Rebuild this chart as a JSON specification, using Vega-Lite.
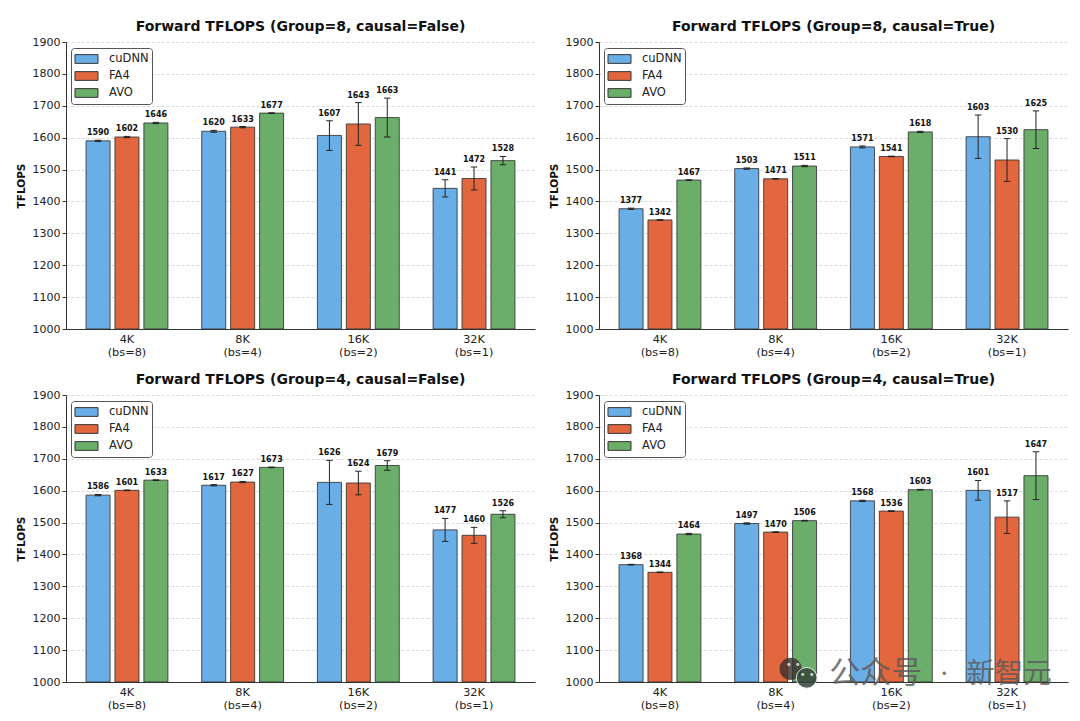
{
  "$schema": "https://vega.github.io/schema/vega-lite/v6.json",
  "background": "white",
  "padding": {"left": 16, "top": 20, "right": 10, "bottom": 5},
  "config": {
    "font": "DejaVu Sans",
    "numberFormat": "d",
    "view": {"stroke": null},
    "title": {"font": "DejaVu Sans", "fontSize": 14, "fontWeight": "bold", "color": "#111", "offset": 2},
    "axis": {"labelFont": "DejaVu Sans", "titleFont": "DejaVu Sans"},
    "axisY": {"tickCount": 10, "labelFontSize": 11, "labelColor": "#222", "tickColor": "#333", "tickSize": 4, "domainColor": "#333", "grid": true, "gridColor": "#ccc", "gridDash": [3, 2], "gridOpacity": 0.75, "titleFontSize": 10.5, "titleFontWeight": "bold", "titleColor": "#111", "titlePadding": 6}
  },
  "data": {
    "values": [
      {"panel": "G8F", "size": "4K (bs=8)", "series": "cuDNN", "value": 1590, "low": 1588, "high": 1592},
      {"panel": "G8F", "size": "4K (bs=8)", "series": "FA4", "value": 1602, "low": 1600, "high": 1604},
      {"panel": "G8F", "size": "4K (bs=8)", "series": "AVO", "value": 1646, "low": 1644, "high": 1648},
      {"panel": "G8F", "size": "8K (bs=4)", "series": "cuDNN", "value": 1620, "low": 1617, "high": 1623},
      {"panel": "G8F", "size": "8K (bs=4)", "series": "FA4", "value": 1633, "low": 1631, "high": 1635},
      {"panel": "G8F", "size": "8K (bs=4)", "series": "AVO", "value": 1677, "low": 1676, "high": 1678},
      {"panel": "G8F", "size": "16K (bs=2)", "series": "cuDNN", "value": 1607, "low": 1560, "high": 1653},
      {"panel": "G8F", "size": "16K (bs=2)", "series": "FA4", "value": 1643, "low": 1576, "high": 1710},
      {"panel": "G8F", "size": "16K (bs=2)", "series": "AVO", "value": 1663, "low": 1602, "high": 1724},
      {"panel": "G8F", "size": "32K (bs=1)", "series": "cuDNN", "value": 1441, "low": 1414, "high": 1468},
      {"panel": "G8F", "size": "32K (bs=1)", "series": "FA4", "value": 1472, "low": 1436, "high": 1508},
      {"panel": "G8F", "size": "32K (bs=1)", "series": "AVO", "value": 1528, "low": 1515, "high": 1541},
      {"panel": "G8T", "size": "4K (bs=8)", "series": "cuDNN", "value": 1377, "low": 1375, "high": 1379},
      {"panel": "G8T", "size": "4K (bs=8)", "series": "FA4", "value": 1342, "low": 1341, "high": 1343},
      {"panel": "G8T", "size": "4K (bs=8)", "series": "AVO", "value": 1467, "low": 1466, "high": 1468},
      {"panel": "G8T", "size": "8K (bs=4)", "series": "cuDNN", "value": 1503, "low": 1501, "high": 1505},
      {"panel": "G8T", "size": "8K (bs=4)", "series": "FA4", "value": 1471, "low": 1470, "high": 1472},
      {"panel": "G8T", "size": "8K (bs=4)", "series": "AVO", "value": 1511, "low": 1509, "high": 1513},
      {"panel": "G8T", "size": "16K (bs=2)", "series": "cuDNN", "value": 1571, "low": 1568, "high": 1574},
      {"panel": "G8T", "size": "16K (bs=2)", "series": "FA4", "value": 1541, "low": 1540, "high": 1542},
      {"panel": "G8T", "size": "16K (bs=2)", "series": "AVO", "value": 1618, "low": 1616, "high": 1620},
      {"panel": "G8T", "size": "32K (bs=1)", "series": "cuDNN", "value": 1603, "low": 1535, "high": 1671},
      {"panel": "G8T", "size": "32K (bs=1)", "series": "FA4", "value": 1530, "low": 1463, "high": 1597},
      {"panel": "G8T", "size": "32K (bs=1)", "series": "AVO", "value": 1625, "low": 1566, "high": 1684},
      {"panel": "G4F", "size": "4K (bs=8)", "series": "cuDNN", "value": 1586, "low": 1584, "high": 1588},
      {"panel": "G4F", "size": "4K (bs=8)", "series": "FA4", "value": 1601, "low": 1600, "high": 1602},
      {"panel": "G4F", "size": "4K (bs=8)", "series": "AVO", "value": 1633, "low": 1632, "high": 1634},
      {"panel": "G4F", "size": "8K (bs=4)", "series": "cuDNN", "value": 1617, "low": 1615, "high": 1619},
      {"panel": "G4F", "size": "8K (bs=4)", "series": "FA4", "value": 1627, "low": 1625, "high": 1629},
      {"panel": "G4F", "size": "8K (bs=4)", "series": "AVO", "value": 1673, "low": 1672, "high": 1674},
      {"panel": "G4F", "size": "16K (bs=2)", "series": "cuDNN", "value": 1626, "low": 1557, "high": 1695},
      {"panel": "G4F", "size": "16K (bs=2)", "series": "FA4", "value": 1624, "low": 1587, "high": 1661},
      {"panel": "G4F", "size": "16K (bs=2)", "series": "AVO", "value": 1679, "low": 1664, "high": 1694},
      {"panel": "G4F", "size": "32K (bs=1)", "series": "cuDNN", "value": 1477, "low": 1441, "high": 1513},
      {"panel": "G4F", "size": "32K (bs=1)", "series": "FA4", "value": 1460, "low": 1435, "high": 1485},
      {"panel": "G4F", "size": "32K (bs=1)", "series": "AVO", "value": 1526, "low": 1515, "high": 1537},
      {"panel": "G4T", "size": "4K (bs=8)", "series": "cuDNN", "value": 1368, "low": 1367, "high": 1369},
      {"panel": "G4T", "size": "4K (bs=8)", "series": "FA4", "value": 1344, "low": 1343, "high": 1345},
      {"panel": "G4T", "size": "4K (bs=8)", "series": "AVO", "value": 1464, "low": 1462, "high": 1466},
      {"panel": "G4T", "size": "8K (bs=4)", "series": "cuDNN", "value": 1497, "low": 1495, "high": 1499},
      {"panel": "G4T", "size": "8K (bs=4)", "series": "FA4", "value": 1470, "low": 1469, "high": 1471},
      {"panel": "G4T", "size": "8K (bs=4)", "series": "AVO", "value": 1506, "low": 1505, "high": 1507},
      {"panel": "G4T", "size": "16K (bs=2)", "series": "cuDNN", "value": 1568, "low": 1566, "high": 1570},
      {"panel": "G4T", "size": "16K (bs=2)", "series": "FA4", "value": 1536, "low": 1535, "high": 1537},
      {"panel": "G4T", "size": "16K (bs=2)", "series": "AVO", "value": 1603, "low": 1602, "high": 1604},
      {"panel": "G4T", "size": "32K (bs=1)", "series": "cuDNN", "value": 1601, "low": 1570, "high": 1632},
      {"panel": "G4T", "size": "32K (bs=1)", "series": "FA4", "value": 1517, "low": 1466, "high": 1568},
      {"panel": "G4T", "size": "32K (bs=1)", "series": "AVO", "value": 1647, "low": 1572, "high": 1722}
    ]
  },
  "columns": 2,
  "bounds": "flush",
  "spacing": {"row": 66, "column": 64},
  "resolve": {"scale": {"color": "independent"}, "legend": {"color": "independent"}},
  "concat": [
    {
      "title": "Forward TFLOPS (Group=8, causal=False)",
      "width": 469,
      "height": 287,
      "transform": [{"filter": "datum.panel == 'G8F'"}],
      "encoding": {
        "x": {"field": "size", "type": "nominal", "sort": ["4K (bs=8)", "8K (bs=4)", "16K (bs=2)", "32K (bs=1)"],
          "scale": {"paddingInner": 0, "paddingOuter": 0.027},
          "axis": {"title": null, "labelAngle": 0, "labelExpr": "split(datum.label, ' ')", "labelFontSize": 11.3, "labelColor": "#222", "labelLineHeight": 13, "labelPadding": 4, "ticks": false, "domainColor": "#333", "grid": false}}
      },
      "layer": [
        {
          "mark": {"type": "bar", "stroke": "#333", "strokeWidth": 1, "strokeOpacity": 0.85},
          "encoding": {
            "xOffset": {"field": "series", "sort": ["cuDNN", "FA4", "AVO"], "scale": {"paddingInner": 0.17, "paddingOuter": 0.585}},
            "y": {"field": "value", "type": "quantitative", "stack": null, "title": "TFLOPS", "scale": {"domain": [1000, 1900], "nice": false, "zero": false}},
            "y2": {"datum": 1000},
            "color": {"field": "series", "type": "nominal",
              "scale": {"domain": ["cuDNN", "FA4", "AVO"], "range": ["#6aaee8", "#e2673e", "#6aae6a"]},
              "legend": {"title": null, "orient": "none", "legendX": 5, "legendY": 6, "fillColor": "white", "strokeColor": "#555", "cornerRadius": 3, "padding": 3, "clipHeight": 16, "rowPadding": 1, "symbolType": "M-1,-0.38H1V0.38H-1Z", "symbolSize": 530, "symbolStrokeColor": "#333", "symbolStrokeWidth": 1, "symbolOpacity": 1, "labelFontSize": 11.5, "labelColor": "#222", "labelOffset": 10}}
          }
        },
        {
          "mark": {"type": "rule", "color": "#222", "strokeWidth": 1},
          "encoding": {
            "xOffset": {"field": "series", "sort": ["cuDNN", "FA4", "AVO"]},
            "y": {"field": "low", "type": "quantitative"},
            "y2": {"field": "high"}
          }
        },
        {
          "mark": {"type": "tick", "orient": "horizontal", "color": "#222", "size": 6.5, "thickness": 1, "opacity": 1},
          "encoding": {
            "xOffset": {"field": "series", "sort": ["cuDNN", "FA4", "AVO"]},
            "y": {"field": "low", "type": "quantitative"}
          }
        },
        {
          "mark": {"type": "tick", "orient": "horizontal", "color": "#222", "size": 6.5, "thickness": 1, "opacity": 1},
          "encoding": {
            "xOffset": {"field": "series", "sort": ["cuDNN", "FA4", "AVO"]},
            "y": {"field": "high", "type": "quantitative"}
          }
        },
        {
          "mark": {"type": "text", "fontSize": 8, "fontWeight": "bold", "color": "#111", "baseline": "alphabetic", "dy": -5},
          "encoding": {
            "xOffset": {"field": "series", "sort": ["cuDNN", "FA4", "AVO"]},
            "y": {"field": "high", "type": "quantitative"},
            "text": {"field": "value", "type": "quantitative", "format": "d"}
          }
        }
      ]
    },
    {
      "title": "Forward TFLOPS (Group=8, causal=True)",
      "width": 469,
      "height": 287,
      "transform": [{"filter": "datum.panel == 'G8T'"}],
      "encoding": {
        "x": {"field": "size", "type": "nominal", "sort": ["4K (bs=8)", "8K (bs=4)", "16K (bs=2)", "32K (bs=1)"],
          "scale": {"paddingInner": 0, "paddingOuter": 0.027},
          "axis": {"title": null, "labelAngle": 0, "labelExpr": "split(datum.label, ' ')", "labelFontSize": 11.3, "labelColor": "#222", "labelLineHeight": 13, "labelPadding": 4, "ticks": false, "domainColor": "#333", "grid": false}}
      },
      "layer": [
        {
          "mark": {"type": "bar", "stroke": "#333", "strokeWidth": 1, "strokeOpacity": 0.85},
          "encoding": {
            "xOffset": {"field": "series", "sort": ["cuDNN", "FA4", "AVO"], "scale": {"paddingInner": 0.17, "paddingOuter": 0.585}},
            "y": {"field": "value", "type": "quantitative", "stack": null, "title": "TFLOPS", "scale": {"domain": [1000, 1900], "nice": false, "zero": false}},
            "y2": {"datum": 1000},
            "color": {"field": "series", "type": "nominal",
              "scale": {"domain": ["cuDNN", "FA4", "AVO"], "range": ["#6aaee8", "#e2673e", "#6aae6a"]},
              "legend": {"title": null, "orient": "none", "legendX": 5, "legendY": 6, "fillColor": "white", "strokeColor": "#555", "cornerRadius": 3, "padding": 3, "clipHeight": 16, "rowPadding": 1, "symbolType": "M-1,-0.38H1V0.38H-1Z", "symbolSize": 530, "symbolStrokeColor": "#333", "symbolStrokeWidth": 1, "symbolOpacity": 1, "labelFontSize": 11.5, "labelColor": "#222", "labelOffset": 10}}
          }
        },
        {
          "mark": {"type": "rule", "color": "#222", "strokeWidth": 1},
          "encoding": {
            "xOffset": {"field": "series", "sort": ["cuDNN", "FA4", "AVO"]},
            "y": {"field": "low", "type": "quantitative"},
            "y2": {"field": "high"}
          }
        },
        {
          "mark": {"type": "tick", "orient": "horizontal", "color": "#222", "size": 6.5, "thickness": 1, "opacity": 1},
          "encoding": {
            "xOffset": {"field": "series", "sort": ["cuDNN", "FA4", "AVO"]},
            "y": {"field": "low", "type": "quantitative"}
          }
        },
        {
          "mark": {"type": "tick", "orient": "horizontal", "color": "#222", "size": 6.5, "thickness": 1, "opacity": 1},
          "encoding": {
            "xOffset": {"field": "series", "sort": ["cuDNN", "FA4", "AVO"]},
            "y": {"field": "high", "type": "quantitative"}
          }
        },
        {
          "mark": {"type": "text", "fontSize": 8, "fontWeight": "bold", "color": "#111", "baseline": "alphabetic", "dy": -5},
          "encoding": {
            "xOffset": {"field": "series", "sort": ["cuDNN", "FA4", "AVO"]},
            "y": {"field": "high", "type": "quantitative"},
            "text": {"field": "value", "type": "quantitative", "format": "d"}
          }
        }
      ]
    },
    {
      "title": "Forward TFLOPS (Group=4, causal=False)",
      "width": 469,
      "height": 287,
      "transform": [{"filter": "datum.panel == 'G4F'"}],
      "encoding": {
        "x": {"field": "size", "type": "nominal", "sort": ["4K (bs=8)", "8K (bs=4)", "16K (bs=2)", "32K (bs=1)"],
          "scale": {"paddingInner": 0, "paddingOuter": 0.027},
          "axis": {"title": null, "labelAngle": 0, "labelExpr": "split(datum.label, ' ')", "labelFontSize": 11.3, "labelColor": "#222", "labelLineHeight": 13, "labelPadding": 4, "ticks": false, "domainColor": "#333", "grid": false}}
      },
      "layer": [
        {
          "mark": {"type": "bar", "stroke": "#333", "strokeWidth": 1, "strokeOpacity": 0.85},
          "encoding": {
            "xOffset": {"field": "series", "sort": ["cuDNN", "FA4", "AVO"], "scale": {"paddingInner": 0.17, "paddingOuter": 0.585}},
            "y": {"field": "value", "type": "quantitative", "stack": null, "title": "TFLOPS", "scale": {"domain": [1000, 1900], "nice": false, "zero": false}},
            "y2": {"datum": 1000},
            "color": {"field": "series", "type": "nominal",
              "scale": {"domain": ["cuDNN", "FA4", "AVO"], "range": ["#6aaee8", "#e2673e", "#6aae6a"]},
              "legend": {"title": null, "orient": "none", "legendX": 5, "legendY": 6, "fillColor": "white", "strokeColor": "#555", "cornerRadius": 3, "padding": 3, "clipHeight": 16, "rowPadding": 1, "symbolType": "M-1,-0.38H1V0.38H-1Z", "symbolSize": 530, "symbolStrokeColor": "#333", "symbolStrokeWidth": 1, "symbolOpacity": 1, "labelFontSize": 11.5, "labelColor": "#222", "labelOffset": 10}}
          }
        },
        {
          "mark": {"type": "rule", "color": "#222", "strokeWidth": 1},
          "encoding": {
            "xOffset": {"field": "series", "sort": ["cuDNN", "FA4", "AVO"]},
            "y": {"field": "low", "type": "quantitative"},
            "y2": {"field": "high"}
          }
        },
        {
          "mark": {"type": "tick", "orient": "horizontal", "color": "#222", "size": 6.5, "thickness": 1, "opacity": 1},
          "encoding": {
            "xOffset": {"field": "series", "sort": ["cuDNN", "FA4", "AVO"]},
            "y": {"field": "low", "type": "quantitative"}
          }
        },
        {
          "mark": {"type": "tick", "orient": "horizontal", "color": "#222", "size": 6.5, "thickness": 1, "opacity": 1},
          "encoding": {
            "xOffset": {"field": "series", "sort": ["cuDNN", "FA4", "AVO"]},
            "y": {"field": "high", "type": "quantitative"}
          }
        },
        {
          "mark": {"type": "text", "fontSize": 8, "fontWeight": "bold", "color": "#111", "baseline": "alphabetic", "dy": -5},
          "encoding": {
            "xOffset": {"field": "series", "sort": ["cuDNN", "FA4", "AVO"]},
            "y": {"field": "high", "type": "quantitative"},
            "text": {"field": "value", "type": "quantitative", "format": "d"}
          }
        }
      ]
    },
    {
      "title": "Forward TFLOPS (Group=4, causal=True)",
      "width": 469,
      "height": 287,
      "transform": [{"filter": "datum.panel == 'G4T'"}],
      "encoding": {
        "x": {"field": "size", "type": "nominal", "sort": ["4K (bs=8)", "8K (bs=4)", "16K (bs=2)", "32K (bs=1)"],
          "scale": {"paddingInner": 0, "paddingOuter": 0.027},
          "axis": {"title": null, "labelAngle": 0, "labelExpr": "split(datum.label, ' ')", "labelFontSize": 11.3, "labelColor": "#222", "labelLineHeight": 13, "labelPadding": 4, "ticks": false, "domainColor": "#333", "grid": false}}
      },
      "layer": [
        {
          "mark": {"type": "bar", "stroke": "#333", "strokeWidth": 1, "strokeOpacity": 0.85},
          "encoding": {
            "xOffset": {"field": "series", "sort": ["cuDNN", "FA4", "AVO"], "scale": {"paddingInner": 0.17, "paddingOuter": 0.585}},
            "y": {"field": "value", "type": "quantitative", "stack": null, "title": "TFLOPS", "scale": {"domain": [1000, 1900], "nice": false, "zero": false}},
            "y2": {"datum": 1000},
            "color": {"field": "series", "type": "nominal",
              "scale": {"domain": ["cuDNN", "FA4", "AVO"], "range": ["#6aaee8", "#e2673e", "#6aae6a"]},
              "legend": {"title": null, "orient": "none", "legendX": 5, "legendY": 6, "fillColor": "white", "strokeColor": "#555", "cornerRadius": 3, "padding": 3, "clipHeight": 16, "rowPadding": 1, "symbolType": "M-1,-0.38H1V0.38H-1Z", "symbolSize": 530, "symbolStrokeColor": "#333", "symbolStrokeWidth": 1, "symbolOpacity": 1, "labelFontSize": 11.5, "labelColor": "#222", "labelOffset": 10}}
          }
        },
        {
          "mark": {"type": "rule", "color": "#222", "strokeWidth": 1},
          "encoding": {
            "xOffset": {"field": "series", "sort": ["cuDNN", "FA4", "AVO"]},
            "y": {"field": "low", "type": "quantitative"},
            "y2": {"field": "high"}
          }
        },
        {
          "mark": {"type": "tick", "orient": "horizontal", "color": "#222", "size": 6.5, "thickness": 1, "opacity": 1},
          "encoding": {
            "xOffset": {"field": "series", "sort": ["cuDNN", "FA4", "AVO"]},
            "y": {"field": "low", "type": "quantitative"}
          }
        },
        {
          "mark": {"type": "tick", "orient": "horizontal", "color": "#222", "size": 6.5, "thickness": 1, "opacity": 1},
          "encoding": {
            "xOffset": {"field": "series", "sort": ["cuDNN", "FA4", "AVO"]},
            "y": {"field": "high", "type": "quantitative"}
          }
        },
        {
          "mark": {"type": "text", "fontSize": 8, "fontWeight": "bold", "color": "#111", "baseline": "alphabetic", "dy": -5},
          "encoding": {
            "xOffset": {"field": "series", "sort": ["cuDNN", "FA4", "AVO"]},
            "y": {"field": "high", "type": "quantitative"},
            "text": {"field": "value", "type": "quantitative", "format": "d"}
          }
        },
        {
          "data": {"values": [{"label": "wechat"}]},
          "mark": {"type": "point", "filled": true, "shape": "circle", "size": 490, "color": "#3a2f2c", "opacity": 0.8, "xOffset": 15},
          "encoding": {
            "x": {"datum": "8K (bs=4)"},
            "y": {"datum": 1041}
          }
        },
        {
          "data": {"values": [{"label": "wechat"}]},
          "mark": {"type": "point", "filled": true, "shape": "circle", "size": 430, "color": "#36453a", "stroke": "white", "strokeWidth": 1, "opacity": 0.85, "xOffset": 31},
          "encoding": {
            "x": {"datum": "8K (bs=4)"},
            "y": {"datum": 1013}
          }
        },
        {
          "data": {"values": [{"text": "• •"}]},
          "mark": {"type": "text", "font": "DejaVu Sans", "fontSize": 10, "color": "white", "opacity": 0.75, "baseline": "middle", "dx": 17.5},
          "encoding": {
            "x": {"datum": "8K (bs=4)"},
            "y": {"datum": 1053},
            "text": {"field": "text", "type": "nominal"}
          }
        },
        {
          "data": {"values": [{"text": "• •"}]},
          "mark": {"type": "text", "font": "DejaVu Sans", "fontSize": 10, "color": "white", "opacity": 0.75, "baseline": "middle", "dx": 31.5},
          "encoding": {
            "x": {"datum": "8K (bs=4)"},
            "y": {"datum": 1022},
            "text": {"field": "text", "type": "nominal"}
          }
        },
        {
          "data": {"values": [{"text": "公众号"}]},
          "mark": {"type": "text", "font": "Noto Sans CJK SC", "fontSize": 31, "color": "#5a5a5a", "opacity": 0.8, "align": "left", "baseline": "middle", "dx": -62},
          "encoding": {
            "x": {"datum": "16K (bs=2)"},
            "y": {"datum": 1025},
            "text": {"field": "text", "type": "nominal"}
          }
        },
        {
          "data": {"values": [{"text": "·"}]},
          "mark": {"type": "text", "font": "Noto Sans CJK SC", "fontSize": 16, "color": "#5a5a5a", "opacity": 0.8, "baseline": "middle", "dx": 53},
          "encoding": {
            "x": {"datum": "16K (bs=2)"},
            "y": {"datum": 1025},
            "text": {"field": "text", "type": "nominal"}
          }
        },
        {
          "data": {"values": [{"text": "新智元"}]},
          "mark": {"type": "text", "font": "Noto Sans CJK SC", "fontSize": 28.5, "color": "#5a5a5a", "opacity": 0.8, "align": "left", "baseline": "middle", "dx": 75},
          "encoding": {
            "x": {"datum": "16K (bs=2)"},
            "y": {"datum": 1025},
            "text": {"field": "text", "type": "nominal"}
          }
        }
      ]
    }
  ]
}
